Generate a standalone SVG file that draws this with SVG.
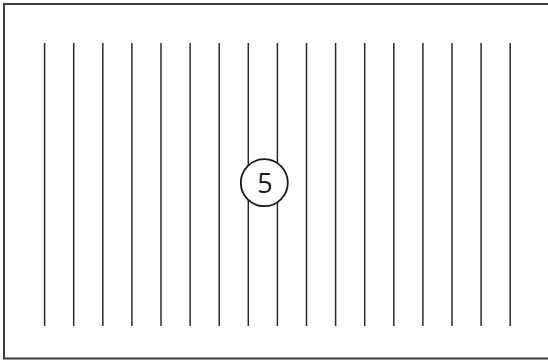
<svg xmlns="http://www.w3.org/2000/svg" width="548" height="360" viewBox="0 0 548 360">
<style>
.frame{fill:none;stroke:#3a3a3a;stroke-width:2}
.ln{stroke:#2a2a2a;stroke-width:1.5}
.badge{fill:#fff;stroke:#1a1a1a;stroke-width:1.8}
.lbl{font-family:"Open Sans","Noto Sans",sans-serif;font-size:27px;fill:#1a1a1a;text-anchor:middle}
</style>
<rect class="frame" x="4" y="4" width="560" height="354.5"/>
<g id="connectors">
<line class="ln" x1="44.6" y1="43" x2="44.6" y2="326"/>
<line class="ln" x1="73.7" y1="43" x2="73.7" y2="326"/>
<line class="ln" x1="102.8" y1="43" x2="102.8" y2="326"/>
<line class="ln" x1="131.9" y1="43" x2="131.9" y2="326"/>
<line class="ln" x1="161" y1="43" x2="161" y2="326"/>
<line class="ln" x1="190.1" y1="43" x2="190.1" y2="326"/>
<line class="ln" x1="219.2" y1="43" x2="219.2" y2="326"/>
<line class="ln" x1="248.3" y1="43" x2="248.3" y2="326"/>
<line class="ln" x1="277.4" y1="43" x2="277.4" y2="326"/>
<line class="ln" x1="306.5" y1="43" x2="306.5" y2="326"/>
<line class="ln" x1="335.6" y1="43" x2="335.6" y2="326"/>
<line class="ln" x1="364.7" y1="43" x2="364.7" y2="326"/>
<line class="ln" x1="393.8" y1="43" x2="393.8" y2="326"/>
<line class="ln" x1="422.9" y1="43" x2="422.9" y2="326"/>
<line class="ln" x1="452" y1="43" x2="452" y2="326"/>
<line class="ln" x1="481.1" y1="43" x2="481.1" y2="326"/>
<line class="ln" x1="510.2" y1="43" x2="510.2" y2="326"/>
</g>
<g id="node-5">
<circle class="badge" cx="264.3" cy="182.7" r="23.5"/>
<text class="lbl" x="265" y="192.5">5</text>
</g>
</svg>
